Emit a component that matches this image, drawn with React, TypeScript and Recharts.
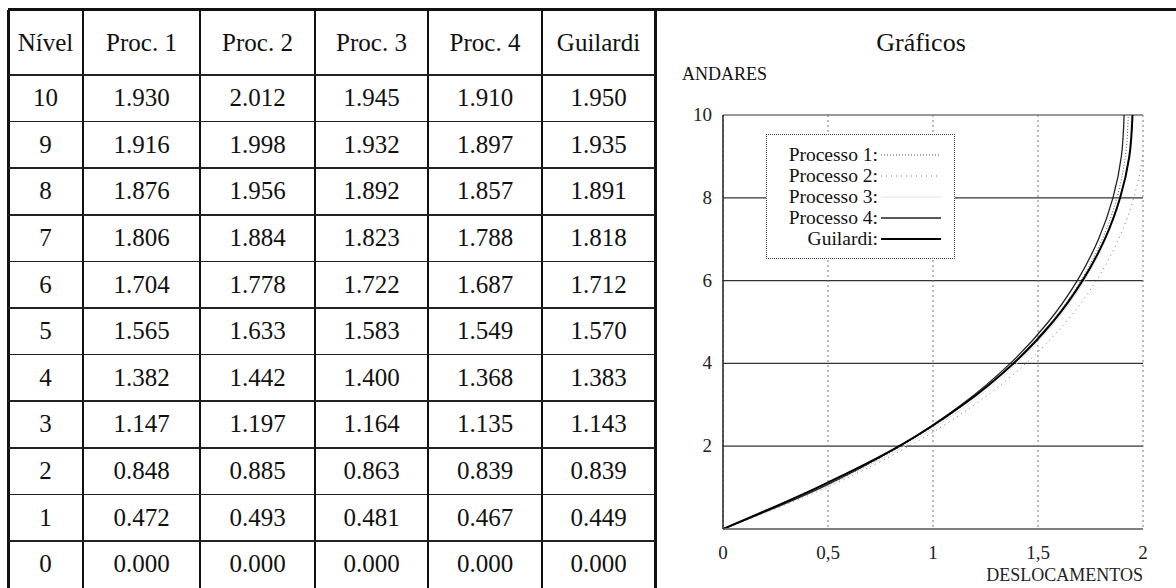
import React from "react";
import {
  LineChart,
  Line,
  XAxis,
  YAxis,
  CartesianGrid,
  Legend,
  Label,
} from "recharts";

// Deslocamentos por nível (andar)
const levels = [0, 1, 2, 3, 4, 5, 6, 7, 8, 9, 10];
const proc1 = [0, 0.472, 0.848, 1.147, 1.382, 1.565, 1.704, 1.806, 1.876, 1.916, 1.93];
const proc2 = [0, 0.493, 0.885, 1.197, 1.442, 1.633, 1.778, 1.884, 1.956, 1.998, 2.012];
const proc3 = [0, 0.481, 0.863, 1.164, 1.4, 1.583, 1.722, 1.823, 1.892, 1.932, 1.945];
const proc4 = [0, 0.467, 0.839, 1.135, 1.368, 1.549, 1.687, 1.788, 1.857, 1.897, 1.91];
const guilardi = [0, 0.449, 0.839, 1.143, 1.383, 1.57, 1.712, 1.818, 1.891, 1.935, 1.95];

const headers = ["Nível", "Proc. 1", "Proc. 2", "Proc. 3", "Proc. 4", "Guilardi"];
const xTicks = [0, 0.5, 1, 1.5, 2];
const yTicks = [2, 4, 6, 8, 10];

const series = [
  { key: "p1", name: "Processo 1:", stroke: "#555", width: 1, dash: "1 2" },
  { key: "p2", name: "Processo 2:", stroke: "#777", width: 1, dash: "1 4" },
  { key: "p3", name: "Processo 3:", stroke: "#e2e2e2", width: 1, dash: undefined },
  { key: "p4", name: "Processo 4:", stroke: "#222", width: 1.3, dash: undefined },
  { key: "g", name: "Guilardi:", stroke: "#000", width: 2, dash: undefined },
];

const data = levels.map((level, i) => ({
  level,
  p1: proc1[i],
  p2: proc2[i],
  p3: proc3[i],
  p4: proc4[i],
  g: guilardi[i],
}));

const FONT = '"Liberation Serif", "Times New Roman", serif';

// table geometry
const COLS = [8, 83, 200, 315, 428, 542, 655];
const HEAD_TOP = 10;
const HEAD_H = 65;
const ROW_H = 46.6;

function Table() {
  const rows = [...levels].reverse().map((lv) => {
    const i = levels.indexOf(lv);
    return [
      String(lv),
      proc1[i].toFixed(3),
      proc2[i].toFixed(3),
      proc3[i].toFixed(3),
      proc4[i].toFixed(3),
      guilardi[i].toFixed(3),
    ];
  });
  const bottom = HEAD_TOP + HEAD_H + ROW_H * rows.length;
  const cells: React.ReactNode[] = [];
  const cell = (text: string, c: number, top: number, h: number, k: string) => (
    <div
      key={k}
      style={{
        position: "absolute",
        left: COLS[c],
        width: COLS[c + 1] - COLS[c],
        top,
        height: h,
        display: "flex",
        alignItems: "center",
        justifyContent: "center",
        fontSize: 25,
        color: "#111",
      }}
    >
      {text}
    </div>
  );
  headers.forEach((h, c) => cells.push(cell(h, c, HEAD_TOP, HEAD_H, "h" + c)));
  rows.forEach((r, ri) =>
    r.forEach((t, c) =>
      cells.push(cell(t, c, HEAD_TOP + HEAD_H + ri * ROW_H, ROW_H, `c${ri}-${c}`))
    )
  );
  const lines: React.ReactNode[] = [];
  COLS.forEach((x, i) => {
    const w = i === 0 || i === COLS.length - 1 ? 3 : 2;
    lines.push(
      <div
        key={"v" + i}
        style={{ position: "absolute", left: x - w / 2, top: HEAD_TOP, width: w, height: bottom - HEAD_TOP, background: "#111" }}
      />
    );
  });
  for (let r = 0; r < rows.length; r++) {
    const y = HEAD_TOP + HEAD_H + r * ROW_H;
    const h = r === 0 ? 2.5 : 1.5;
    lines.push(
      <div
        key={"r" + r}
        style={{ position: "absolute", left: COLS[0], top: y - h / 2, width: COLS[COLS.length - 1] - COLS[0], height: h, background: "#222" }}
      />
    );
  }
  return (
    <>
      {lines}
      {cells}
    </>
  );
}

function LegendBox() {
  return (
    <div
      style={{
        width: 189,
        height: 125,
        border: "1px dotted #444",
        background: "#fff",
        fontFamily: FONT,
        fontSize: 19.5,
        color: "#111",
        paddingTop: 9,
        boxSizing: "border-box",
      }}
    >
      {series.map((s) => (
        <div key={s.key} style={{ display: "flex", alignItems: "center", height: 21, lineHeight: "21px" }}>
          <span style={{ width: 111, textAlign: "right", whiteSpace: "nowrap" }}>{s.name}</span>
          <svg width={64} height={21} style={{ marginLeft: 3 }}>
            <line x1={0} x2={60} y1={11} y2={11} stroke={s.stroke} strokeWidth={s.width} strokeDasharray={s.dash} />
          </svg>
        </div>
      ))}
    </div>
  );
}

// axis tick labels in the serif face, a bit larger than the default
function XTick({ x, y, payload }: any) {
  return (
    <text x={x} y={y + 15} textAnchor="middle" fontSize={19} fill="#222" fontFamily={FONT}>
      {String(payload.value).replace(".", ",")}
    </text>
  );
}

function YTick({ x, y, payload }: any) {
  return (
    <text x={x} y={y + 6} textAnchor="end" fontSize={19} fill="#222" fontFamily={FONT}>
      {payload.value}
    </text>
  );
}

export default function App() {
  return (
    <div style={{ position: "absolute", left: 0, top: 0, width: 1176, height: 588, background: "#fff", fontFamily: FONT, overflow: "hidden" }}>
      <div style={{ position: "absolute", left: 8, top: 8, width: 1168, height: 3, background: "#111" }} />
      <Table />
      <div style={{ position: "absolute", left: 660, top: 0, width: 516, height: 588 }}>
        <div style={{ position: "absolute", left: 0, width: 516, top: 28, textAlign: "center", fontSize: 26, lineHeight: "30px", color: "#111", paddingLeft: 6, boxSizing: "border-box" }}>
          Gráficos
        </div>
        <div style={{ position: "absolute", left: 22, top: 64, fontSize: 18, lineHeight: "20px", color: "#111" }}>ANDARES</div>
        <LineChart
          width={516}
          height={588}
          data={data}
          layout="vertical"
          margin={{ top: 115, right: 33, bottom: 7, left: 0 }}
          style={{ fontFamily: FONT }}
        >
          <CartesianGrid vertical={false} stroke="#333" strokeWidth={1.2} />
          <CartesianGrid horizontal={false} stroke="#777" strokeDasharray="2 3" />
          <XAxis
            type="number"
            domain={[0, 2]}
            ticks={xTicks}
            allowDataOverflow
            tickLine={false}
            tickMargin={9}
            height={52}
            axisLine={{ stroke: "#777", strokeWidth: 1.5 }}
            tick={<XTick />}
          >
            <Label value="DESLOCAMENTOS" position="insideBottomRight" offset={0} style={{ fontSize: 18, fill: "#222" }} />
          </XAxis>
          <YAxis
            type="number"
            dataKey="level"
            domain={[0, 10]}
            ticks={yTicks}
            reversed
            tickLine={false}
            tickMargin={5}
            width={63}
            axisLine={{ stroke: "#222", strokeWidth: 1.5 }}
            tick={<YTick />}
          />
          <Legend
            layout="vertical"
            align="center"
            verticalAlign="middle"
            wrapperStyle={{ left: 106, top: 134, width: 189, height: 125 }}
            content={() => <LegendBox />}
          />
          {series.map((s) => (
            <Line
              key={s.key}
              dataKey={s.key}
              name={s.name}
              type="monotone"
              stroke={s.stroke}
              strokeWidth={s.width}
              strokeDasharray={s.dash}
              dot={false}
              activeDot={false}
              isAnimationActive={false}
            />
          ))}
        </LineChart>
      </div>
    </div>
  );
}
